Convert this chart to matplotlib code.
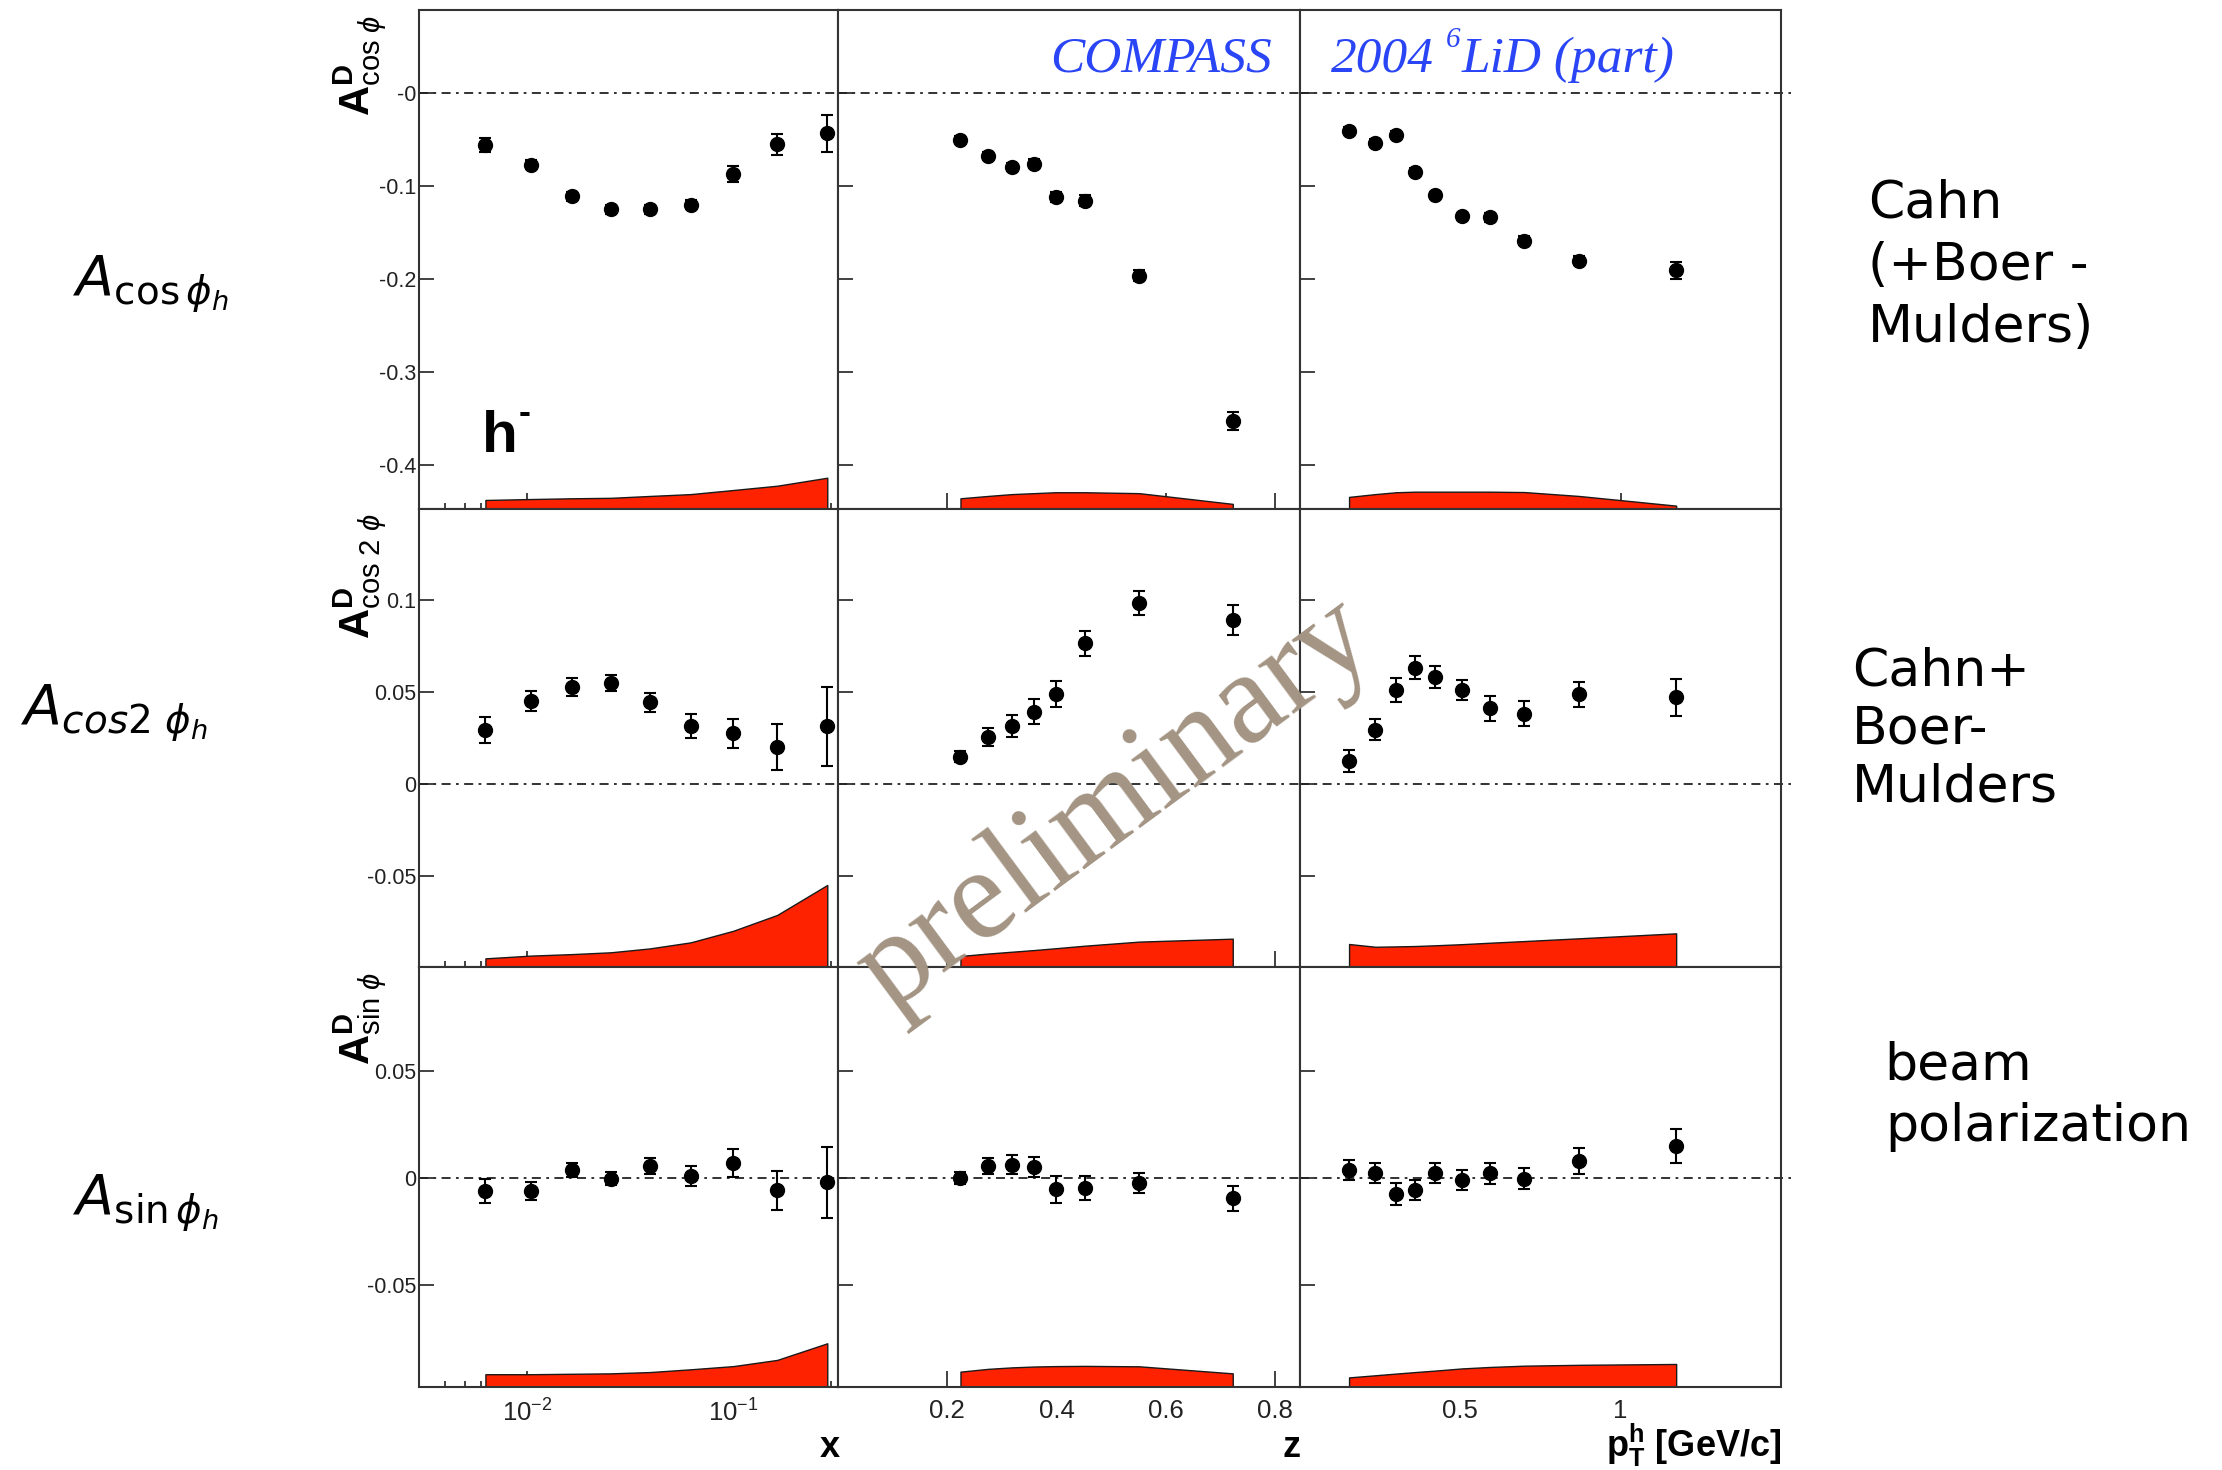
import numpy as np
import matplotlib
matplotlib.use('Agg')
import matplotlib.pyplot as plt
from matplotlib.ticker import FixedLocator, FixedFormatter, NullFormatter, NullLocator

plt.rcParams['font.family'] = ['Liberation Sans', 'DejaVu Sans']
plt.rcParams['mathtext.fontset'] = 'custom'
plt.rcParams['mathtext.rm'] = 'Liberation Sans'
plt.rcParams['mathtext.it'] = 'Liberation Sans:italic'
plt.rcParams['mathtext.bf'] = 'Liberation Sans:bold'
plt.rcParams['mathtext.sf'] = 'Liberation Sans'

# ---------------- data ----------------
x_bins = [0.0063, 0.0105, 0.0165, 0.0256, 0.0395, 0.0624, 0.1005, 0.164, 0.287]
z_bins = [0.224, 0.274, 0.318, 0.358, 0.398, 0.452, 0.551, 0.722]
pt_bins = [0.153, 0.235, 0.300, 0.359, 0.422, 0.504, 0.593, 0.700, 0.870, 1.173]

# A_cos(phi)
cos_x = [-0.0564, -0.077, -0.111, -0.125, -0.125, -0.120, -0.0875, -0.0553, -0.0435]
cos_x_err = [0.0075, 0.005, 0.005, 0.005, 0.005, 0.005, 0.0086, 0.0115, 0.020]
cos_x_sys = [0.0097, 0.0107, 0.0115, 0.012, 0.014, 0.016, 0.0204, 0.025, 0.0336]
cos_z = [-0.0503, -0.0675, -0.0796, -0.076, -0.112, -0.1158, -0.1963, -0.3528]
cos_z_err = [0.004, 0.004, 0.004, 0.005, 0.005, 0.006, 0.006, 0.0095]
cos_z_sys = [0.0115, 0.014, 0.016, 0.017, 0.018, 0.018, 0.017, 0.0055]
cos_pt = [-0.0406, -0.0538, -0.0449, -0.0846, -0.110, -0.1326, -0.1337, -0.1588, -0.1803, -0.1907]
cos_pt_err = [0.004, 0.004, 0.004, 0.004, 0.004, 0.004, 0.005, 0.005, 0.005, 0.0095]
cos_pt_sys = [0.013, 0.016, 0.018, 0.0186, 0.0186, 0.0186, 0.0186, 0.0182, 0.014, 0.0036]

# A_cos(2phi)
cos2_x = [0.0293, 0.0451, 0.0529, 0.0551, 0.0444, 0.0315, 0.0275, 0.0203, 0.0313]
cos2_x_err = [0.0069, 0.0054, 0.0049, 0.0043, 0.0053, 0.0063, 0.008, 0.0125, 0.0216]
cos2_x_sys = [0.0047, 0.0062, 0.007, 0.008, 0.0101, 0.0134, 0.0197, 0.0283, 0.0446]
cos2_z = [0.0149, 0.0257, 0.0317, 0.0393, 0.0489, 0.0764, 0.0986, 0.0891]
cos2_z_err = [0.003, 0.0049, 0.0059, 0.0068, 0.0073, 0.0068, 0.0065, 0.0083]
cos2_z_sys = [0.006, 0.0073, 0.0083, 0.0092, 0.0102, 0.0116, 0.0138, 0.0154]
cos2_pt = [0.0125, 0.0295, 0.0511, 0.0632, 0.0582, 0.0511, 0.0411, 0.0382, 0.0487, 0.0471]
cos2_pt_err = [0.0059, 0.0057, 0.0063, 0.0063, 0.0059, 0.0054, 0.0067, 0.0068, 0.0067, 0.010]
cos2_pt_sys = [0.0125, 0.011, 0.0112, 0.0114, 0.0118, 0.0124, 0.0132, 0.0141, 0.0156, 0.0183]

# A_sin(phi)
sin_x = [-0.0061, -0.0061, 0.0039, -0.0003, 0.0058, 0.0009, 0.0072, -0.0058, -0.0019]
sin_x_err = [0.0055, 0.0043, 0.0034, 0.003, 0.0037, 0.0048, 0.0066, 0.009, 0.0166]
sin_x_sys = [0.006, 0.006, 0.0062, 0.0064, 0.007, 0.0083, 0.0098, 0.0127, 0.0205]
sin_z = [0.0, 0.0056, 0.0063, 0.0052, -0.0053, -0.0047, -0.0022, -0.0094]
sin_z_err = [0.003, 0.0036, 0.0045, 0.0048, 0.0062, 0.0055, 0.0047, 0.0059]
sin_z_sys = [0.0072, 0.0085, 0.0092, 0.0096, 0.0098, 0.0099, 0.0097, 0.0064]
sin_pt = [0.0036, 0.0025, -0.0075, -0.0055, 0.0023, -0.0011, 0.0023, -0.0003, 0.008, 0.015]
sin_pt_err = [0.0047, 0.0047, 0.0052, 0.0048, 0.0047, 0.0047, 0.005, 0.005, 0.0059, 0.008]
sin_pt_sys = [0.0045, 0.0055, 0.0063, 0.007, 0.0077, 0.0087, 0.0094, 0.01, 0.0104, 0.0108]

ytick_vals = [[0, -0.1, -0.2, -0.3, -0.4], [0.1, 0.05, 0, -0.05], [0.05, 0, -0.05]]
ytick_labels = [['-0', '-0.1', '-0.2', '-0.3', '-0.4'], ['0.1', '0.05', '0', '-0.05'], ['0.05', '0', '-0.05']]
x_major = [[0.01, 0.1], [0.2, 0.4, 0.6, 0.8], [0.5, 1.0]]
x_major_labels = [[r'$\mathregular{10^{-2}}$', r'$\mathregular{10^{-1}}$'], ['0.2', '0.4', '0.6', '0.8'], ['0.5', '1']]
x_minor_log = [0.004, 0.005, 0.006, 0.007, 0.008, 0.009, 0.02, 0.03, 0.04, 0.05, 0.06, 0.07, 0.08, 0.09, 0.2, 0.3]
xlabels = ['x', 'z', r'$\mathbf{p}_{\mathbf{T}}^{\mathbf{h}}$ [GeV/c]']
ylabels = [r'$\mathbf{A}^{\mathbf{D}}_{\mathrm{cos}\ \phi}$',
           r'$\mathbf{A}^{\mathbf{D}}_{\mathrm{cos\ 2}\ \phi}$',
           r'$\mathbf{A}^{\mathbf{D}}_{\mathrm{sin}\ \phi}$']
left_labels = [r'$A_{\cos\phi_h}$', r'$A_{cos2\ \phi_h}$', r'$A_{\sin\phi_h}$']
right_labels = [['Cahn', '(+Boer -', 'Mulders)'], ['Cahn+', 'Boer-', 'Mulders'], ['beam', 'polarization']]

bins = [x_bins, z_bins, pt_bins]
vals = [[cos_x, cos_z, cos_pt], [cos2_x, cos2_z, cos2_pt], [sin_x, sin_z, sin_pt]]
errs = [[cos_x_err, cos_z_err, cos_pt_err], [cos2_x_err, cos2_z_err, cos2_pt_err], [sin_x_err, sin_z_err, sin_pt_err]]
syss = [[cos_x_sys, cos_z_sys, cos_pt_sys], [cos2_x_sys, cos2_z_sys, cos2_pt_sys], [sin_x_sys, sin_z_sys, sin_pt_sys]]

# ---------------- layout ----------------
W, H = 2222, 1470
fig = plt.figure(figsize=(W / 100, H / 100), dpi=100)
col_px = [(419, 838), (838, 1300), (1300, 1781)]
row_px = [(10, 509), (509, 967), (967, 1387)]
ylims = [(-0.447, 0.089), (-0.0995, 0.1495), (-0.098, 0.099)]
xlims = [(0.003, 0.3235), (0.0, 0.845), (0.0, 1.5)]

def P(x, y):
    return x / W, 1 - y / H

FRAME = '#333333'
RED = '#ff2200'
TXT = '#222222'

for r in range(3):
    for c in range(3):
        x0, x1 = col_px[c]
        y0, y1 = row_px[r]
        ax = fig.add_axes([x0 / W, 1 - y1 / H, (x1 - x0) / W, (y1 - y0) / H])
        if c == 0:
            ax.set_xscale('log')
        ax.set_xlim(*xlims[c])
        ax.set_ylim(*ylims[r])
        ax.set_axisbelow(True)
        for s in ax.spines.values():
            s.set_linewidth(1.5)
            s.set_color(FRAME)
        lo = ylims[r][0]
        xb = np.array(bins[c])
        ax.fill_between(xb, lo, lo + np.array(syss[r][c]), facecolor=RED,
                        edgecolor='#1a1a1a', linewidth=1.0, zorder=2)
        if c == 2:
            ax.plot([0, 1.02], [0, 0], transform=ax.get_yaxis_transform(), clip_on=False,
                    color=TXT, lw=1.3, ls=(0, (5, 3, 1.5, 3)), zorder=1.5)
        else:
            ax.axhline(0, color=TXT, lw=1.3, ls=(0, (5, 3, 1.5, 3)), zorder=1.5)
        ax.errorbar(xb, vals[r][c], yerr=errs[r][c], fmt='o', color='black', ms=10,
                    elinewidth=1.5, capsize=4.5, capthick=1.5, zorder=3)
        # ticks
        ax.yaxis.set_major_locator(FixedLocator(ytick_vals[r]))
        ax.yaxis.set_minor_locator(NullLocator())
        if c == 0:
            ax.yaxis.set_major_formatter(FixedFormatter(ytick_labels[r]))
        else:
            ax.yaxis.set_major_formatter(NullFormatter())
        ax.xaxis.set_major_locator(FixedLocator(x_major[c]))
        if c == 0:
            ax.xaxis.set_minor_locator(FixedLocator(x_minor_log))
        else:
            ax.xaxis.set_minor_locator(NullLocator())
        ax.xaxis.set_minor_formatter(NullFormatter())
        if r == 2:
            ax.xaxis.set_major_formatter(FixedFormatter(x_major_labels[c]))
        else:
            ax.xaxis.set_major_formatter(NullFormatter())
        ax.tick_params(which='both', direction='in', top=False, right=False,
                       color=FRAME, width=1.3, labelcolor=TXT)
        ax.tick_params(axis='y', which='major', length=11, pad=2, labelsize=15.5)
        ax.tick_params(axis='x', which='major', length=11.5, pad=9, labelsize=18.5)
        ax.tick_params(axis='x', which='minor', length=4.5)
        if r == 2:
            ax.text(1.0 + (2 if c == 0 else 0) / (x1 - x0), -(1457 - y1) / (y1 - y0), xlabels[c],
                    transform=ax.transAxes, ha='right', va='baseline',
                    fontsize=26, fontweight='bold', color='black')

# rotated y titles
for r in range(3):
    x, y = P(360, row_px[r][0] + 5)
    fig.text(x, y, ylabels[r], rotation=90, ha='center', va='top', fontsize=30, color='black')

# h- label
fig.text(*P(482, 452), 'h', fontsize=42, fontweight='bold', ha='left', va='baseline')
fig.text(*P(519, 423), '-', fontsize=26, fontweight='bold', ha='left', va='baseline')

# experiment labels
BLUE = '#2a45f5'
fig.text(*P(1272, 72), 'COMPASS', fontfamily='Liberation Serif', style='italic',
         fontsize=37, color=BLUE, ha='right', va='baseline')
fig.text(*P(1331, 72), '2004', fontfamily='Liberation Serif', style='italic',
         fontsize=37, color=BLUE, ha='left', va='baseline')
fig.text(*P(1446, 47), '6', fontfamily='Liberation Serif', style='italic',
         fontsize=21, color=BLUE, ha='left', va='baseline')
fig.text(*P(1462, 72), 'LiD (part)', fontfamily='Liberation Serif', style='italic',
         fontsize=37, color=BLUE, ha='left', va='baseline')

# left-hand labels
left_pos = [(73, 295), (21, 724), (73, 1214)]
for lab, (x, y) in zip(left_labels, left_pos):
    fig.text(*P(x, y), lab, fontsize=40, math_fontfamily='dejavusans', ha='left', va='baseline')

# right-hand labels
right_pos = [[(1868, 217), (1868, 280), (1868, 342)],
             [(1852, 685), (1852, 743), (1852, 802)],
             [(1884, 1080), (1885, 1141)]]
for lines, poss in zip(right_labels, right_pos):
    for t, (x, y) in zip(lines, poss):
        fig.text(*P(x, y), t, fontsize=37.5, fontfamily='DejaVu Sans', ha='left', va='baseline')

# watermark
fig.text(*P(1135, 830), 'preliminary', fontfamily='Liberation Serif', fontsize=94,
         color='#a39483', rotation=36.5, rotation_mode='anchor', ha='center', va='baseline', zorder=10)

fig.savefig('out.png', dpi=100)
